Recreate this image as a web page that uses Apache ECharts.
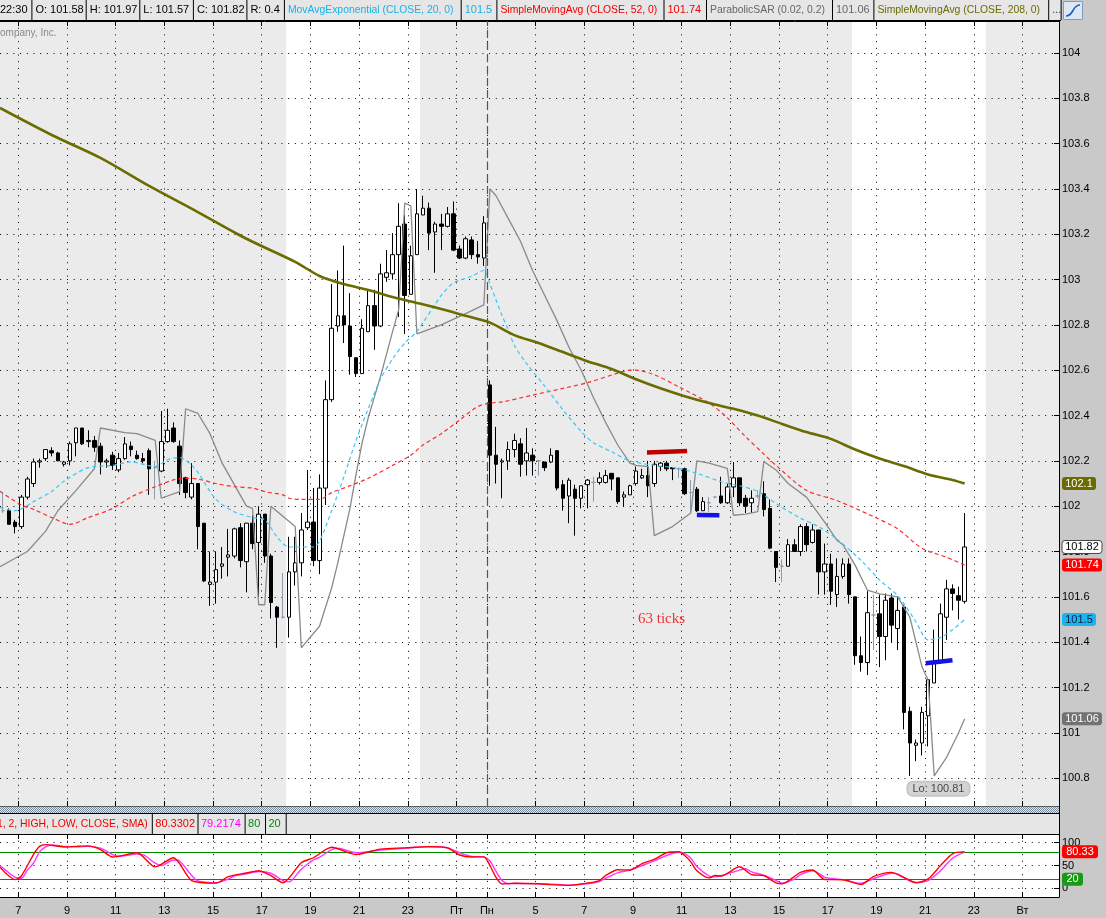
<!DOCTYPE html>
<html>
<head>
<meta charset="utf-8">
<title>Chart</title>
<script src="https://cdn.jsdelivr.net/npm/echarts@6.0.0/dist/echarts.min.js"></script>
<style>
html,body{margin:0;padding:0;background:#c9c9c9;overflow:hidden}
#chart{width:1106px;height:918px}
</style>
</head>
<body>
<div id="chart"></div>
<script>
// ---------------- DATA ----------------
const nSlots = 174; // 15-minute slots on the time axis (incl. empty future space)
const tickIndex = [3, 11, 19, 27, 35, 43, 51, 59, 67, 75, 80, 88, 96, 104, 112, 120, 128, 136, 144, 152, 160, 168];
const tickText  = ['7','9','11','13','15','17','19','21','23','Пт','Пн','5','7','9','11','13','15','17','19','21','23','Вт'];

const opens = [101.98,101.98,101.93,101.91,102.04,102.10,102.195,102.21,102.245,102.235,102.185,102.20,102.28,102.345,102.285,102.29,102.265,102.195,102.225,102.16,
102.21,102.265,102.225,102.21,102.245,102.17,102.155,102.285,102.345,102.265,102.125,102.04,102.10,101.925,101.655,101.665,101.735,101.775,101.78,101.905,
101.755,101.925,101.84,101.965,101.78,101.555,101.51,101.51,101.71,101.75,101.905,101.93,101.76,102.08,102.47,102.795,102.84,102.795,102.655,102.585,
102.77,102.885,102.795,103.01,103.025,103.11,103.245,102.935,103.11,103.285,103.315,103.21,103.245,103.235,103.29,103.135,103.095,103.175,103.11,103.095,
102.535,102.225,102.195,102.20,102.25,102.275,102.20,102.225,102.20,102.195,102.195,102.245,102.095,102.045,102.075,102.035,102.095,102.105,102.105,102.105,
102.145,102.125,102.04,102.05,102.10,102.125,102.135,102.10,102.175,102.19,102.17,102.165,102.165,102.06,102.075,101.98,102.015,102.04,102.045,102.015,
102.085,102.125,102.035,102.015,102.045,102.055,101.99,101.80,101.735,101.735,101.83,101.80,101.91,101.84,101.895,101.71,101.745,101.61,101.69,101.745,
101.60,101.34,101.31,101.52,101.525,101.425,101.595,101.46,101.555,101.095,100.945,100.955,101.075,101.22,101.31,101.51,101.635,101.605,101.58];

const highs = [102.06,101.99,101.94,102.05,102.13,102.21,102.21,102.25,102.26,102.24,102.20,102.285,102.345,102.345,102.335,102.31,102.28,102.21,102.24,102.235,
102.305,102.285,102.245,102.235,102.255,102.20,102.42,102.43,102.37,102.29,102.13,102.19,102.10,101.925,101.80,101.80,101.82,101.90,101.905,101.925,
101.925,101.96,102.0,101.965,101.79,101.56,101.705,101.865,101.865,101.97,102.16,102.08,102.14,102.555,102.98,103.04,103.15,102.94,102.655,102.825,
102.955,102.955,103.07,103.13,103.205,103.337,103.285,103.15,103.40,103.37,103.34,103.255,103.29,103.32,103.345,103.15,103.19,103.19,103.17,103.28,
102.555,102.35,102.21,102.285,102.32,102.30,102.345,102.255,102.205,102.195,102.255,102.245,102.115,102.125,102.095,102.09,102.12,102.13,102.15,102.16,
102.145,102.125,102.065,102.095,102.175,102.165,102.20,102.20,102.195,102.20,102.17,102.17,102.17,102.115,102.085,102.04,102.04,102.045,102.13,102.10,
102.195,102.125,102.05,102.07,102.07,102.11,102.03,101.80,101.765,101.855,101.855,101.92,101.925,101.92,101.895,101.835,101.79,101.77,101.77,101.77,
101.60,101.425,101.625,101.61,101.61,101.615,101.615,101.60,101.565,101.115,100.97,101.115,101.235,101.455,101.57,101.675,101.655,101.645,101.97];

const lows = [101.97,101.92,101.88,101.90,102.03,102.085,102.17,102.20,102.22,102.20,102.175,102.18,102.22,102.27,102.26,102.24,102.14,102.17,102.16,102.15,
102.205,102.22,102.205,102.19,102.05,102.03,102.15,102.28,102.28,102.05,102.035,102.03,101.81,101.665,101.56,101.57,101.68,101.69,101.77,101.73,
101.62,101.81,101.60,101.75,101.505,101.375,101.505,101.42,101.65,101.69,101.895,101.735,101.70,102.005,102.46,102.77,102.72,102.58,102.57,102.585,
102.77,102.69,102.79,102.99,103.0,102.835,102.76,102.935,103.11,103.285,103.13,103.03,103.13,103.23,103.125,103.09,103.09,103.09,103.07,103.06,
102.09,102.10,102.035,102.16,102.215,102.13,102.135,102.135,102.135,102.155,102.19,102.07,101.98,101.925,101.87,101.99,101.99,102.02,102.095,102.10,
102.07,102.01,102.0,102.05,102.09,102.12,102.04,102.085,102.155,102.155,102.115,102.125,102.05,101.975,101.975,101.98,101.975,102.035,102.01,102.01,
102.04,102.0,101.97,101.97,102.035,101.955,101.81,101.665,101.665,101.735,101.80,101.78,101.80,101.835,101.61,101.61,101.565,101.555,101.68,101.57,
101.30,101.27,101.255,101.365,101.29,101.32,101.40,101.365,101.015,100.81,100.875,100.90,100.94,101.22,101.305,101.41,101.54,101.50,101.57];

const closes = [101.98,101.92,101.91,102.04,102.12,102.195,102.20,102.25,102.235,102.20,102.195,102.275,102.345,102.275,102.29,102.26,102.195,102.20,102.18,102.21,
102.275,102.25,102.21,102.20,102.165,102.17,102.285,102.335,102.285,102.10,102.06,102.10,101.91,101.67,101.665,101.72,101.745,101.785,101.90,101.76,
101.925,101.835,101.965,101.78,101.575,101.51,101.51,101.71,101.75,101.895,101.93,101.76,102.08,102.47,102.785,102.84,102.80,102.66,102.585,102.785,
102.885,102.795,103.025,103.03,103.11,103.235,102.93,103.105,103.29,103.315,103.205,103.245,103.235,103.29,103.13,103.095,103.18,103.11,103.10,103.25,
102.225,102.185,102.20,102.25,102.29,102.185,102.235,102.20,102.20,102.17,102.225,102.08,102.035,102.115,102.035,102.09,102.115,102.105,102.125,102.135,
102.12,102.02,102.05,102.09,102.155,102.135,102.09,102.185,102.19,102.165,102.165,102.165,102.055,102.06,101.98,102.02,102.015,102.04,102.015,102.085,
102.125,102.015,102.0,102.035,102.045,101.985,101.815,101.73,101.735,101.83,101.80,101.91,101.83,101.895,101.71,101.745,101.625,101.69,101.745,101.61,
101.34,101.31,101.53,101.52,101.425,101.585,101.475,101.54,101.09,100.955,100.955,101.09,101.235,101.31,101.525,101.635,101.615,101.585,101.82];

// indicator lines: [slot index, price]  (slot -0.5 = left edge of the plot)
const sma208 = [[-0.5,103.757],[8,103.638],[16,103.537],[24,103.413],[32,103.298],[40,103.18],[48,103.078],[52,103.016],[56,102.98],[60,102.954],[64,102.923],[68,102.897],[72,102.87],[76,102.84],[80,102.81],[84,102.755],[88,102.72],[92,102.68],[96,102.64],[100,102.605],[104,102.56],[108,102.52],[112,102.485],[116,102.455],[120,102.43],[124,102.40],[128,102.363],[132,102.327],[136,102.297],[140,102.25],[144,102.21],[148,102.177],[152,102.14],[156,102.116],[158,102.10]];
const sma52 = [[-0.5,102.066],[3,102.005],[5,101.986],[8,101.95],[11,101.92],[14,101.95],[18,101.99],[21,102.04],[25,102.086],[28,102.116],[30,102.123],[32,102.12],[35,102.10],[38,102.086],[41,102.08],[43,102.064],[46,102.05],[47,102.035],[49,102.03],[52,102.03],[54,102.06],[57,102.09],[60,102.123],[64,102.18],[67,102.225],[69,102.27],[72,102.32],[75,102.38],[78,102.44],[80,102.455],[82,102.46],[87,102.49],[92,102.52],[96,102.545],[101,102.587],[103,102.6],[104,102.6],[107,102.58],[111,102.527],[116,102.455],[119,102.39],[122,102.307],[125,102.23],[127,102.18],[132,102.07],[137,102.025],[143,101.954],[147,101.90],[151,101.814],[155,101.775],[158,101.74]];
const ema20 = [[-0.5,101.995],[2,101.98],[5,102.02],[8,102.065],[10,102.11],[14,102.17],[18,102.18],[21,102.195],[25,102.175],[27,102.205],[29,102.215],[31,102.18],[32,102.15],[35,102.03],[38,101.975],[41,101.95],[43,101.94],[45,101.865],[47,101.82],[51,101.82],[52,101.845],[54,101.98],[56,102.13],[58,102.29],[60,102.43],[62,102.56],[64,102.65],[66,102.72],[68,102.77],[69,102.81],[71,102.89],[72,102.93],[74,102.985],[77,103.015],[79,103.04],[80,102.98],[81,102.91],[82,102.84],[83,102.78],[84,102.71],[86,102.63],[89,102.53],[92,102.425],[95,102.33],[97,102.28],[100,102.24],[103,102.2],[107,102.18],[111,102.167],[114,102.145],[118,102.108],[121,102.09],[124,102.066],[126,102.03],[128,101.995],[131,101.947],[134,101.91],[137,101.855],[141,101.76],[144,101.675],[147,101.605],[150,101.49],[152,101.41],[154,101.42],[156,101.455],[158,101.5]];
const psar = [[-0.5,101.733],[4,101.80],[7,101.89],[9,101.98],[12,102.07],[15,102.165],
[16,102.345],[20,102.325],[22,102.32],[25,102.29],
[26,102.035],[29,102.064],
[30,102.43],[32,102.41],[34,102.32],[36,102.19],[40,102.0],[41,101.99],
[42,101.565],[43,101.565],
[44,102.0],[48,101.91],
[49,101.375],[52,101.47],[54,101.64],[55,101.75],[56,101.87],[57,101.99],[58,102.14],[59,102.28],[60,102.39],[61,102.48],[62,102.57],[63,102.67],[64,102.77],[65,102.866],
[66,103.337],[67,103.325],
[68,102.76],[72,102.80],[76,102.85],[79,102.888],
[80,103.40],[81,103.37],[83,103.27],[85,103.17],[87,103.04],[89,102.93],[91,102.82],[93,102.70],[95,102.60],[97,102.48],[99,102.37],[101,102.27],[103,102.19],[104,102.18],[106,102.175],
[107,101.87],[110,101.91],[113,101.97],
[114,102.20],[116,102.19],[119,102.167],
[120,101.96],[122,101.965],[124,101.976],
[125,102.197],[127,102.16],[129,102.10],[132,102.04],[135,101.93],[137,101.85],[138,101.83],[140,101.74],[142,101.63],[144,101.613],[147,101.60],[149,101.51],[151,101.29],[152,101.233],
[153,100.81],[155,100.89],[157,101.0],[158,101.062]];

// drawn level segments
const redLevel   = [[105.8,102.237],[112.4,102.243]];
const blueLevel1 = [[114.0,101.961],[117.7,101.960]];
const blueLevel2 = [[151.6,101.307],[156.0,101.320]];

// sessions (slot edges) shown with white background
const whiteSessions = [[46.5,68.5],[139.5,161.5]];
const weekBreak = 79.5;

// stochastic
const stochK = [[-0.5,46],[2,19],[3,27],[5,74],[6,92],[7,95.7],[10,90.7],[12,92],[14,93],[16,85],[18,68.6],[22,78],[25,47],[28,67],[31,17],[35,11.4],[37,25.7],[40,33.6],[42,38.6],[44,28],[46,12],[49,56],[51,67],[54,90],[58,74],[62,86],[66,88.6],[70,91.4],[73,88.6],[75,73],[77,68.6],[79,69],[80,50],[81,24],[82,9.5],[84,11],[88,10],[90,8],[93,6.5],[96,11.5],[98,17],[99,27.9],[101,40.7],[103,40],[105,54.3],[107,63.6],[109,77.9],[111,80],[112,72],[113,58],[114,38.6],[116,22.9],[117,27.9],[118,27.1],[121,47.1],[123,30],[125,27.9],[127,12],[128,10],[130,25.7],[131,35],[133,40],[135,19.3],[138,18.6],[141,8.6],[143,25.7],[146,35],[148,24],[150,12.1],[152,20.7],[154,49.3],[156,75.7],[158,80.3302]];
const stochD = [[-0.5,50],[2,24],[3,22],[4,40],[5,55],[6,80],[7,91],[8,95],[10,92],[12,91],[14,92],[16,88],[18,74],[19,70],[22,75],[23,74],[25,55],[26,50],[28,62],[29,60],[31,28],[32,16],[35,12],[37,20],[38,27],[40,32],[42,37],[44,33],[46,17],[47,14],[49,42],[51,62],[52,68],[54,85],[55,88],[58,78],[62,84],[66,88],[70,91],[73,89],[75,78],[77,70],[79,69],[80,60],[81,37],[82,17],[83,10],[84,10.5],[88,10],[90,9],[93,7],[96,10],[98,15],[99,22],[101,34],[103,40],[105,50],[107,60],[109,72],[111,79],[112,76],[113,66],[114,48],[116,27],[117,25],[118,27.5],[121,40],[122,43],[123,36],[125,29],[127,17],[128,11],[130,20],[131,30],[133,38.5],[134,33],[135,24],[138,19],[141,11],[142,15],[143,21],[146,33],[147,31],[149,16],[150,13],[152,17],[154,38],[156,66],[158,79.2174]];
const stochLevels = [80, 20];

// annotations
const tickNote = {k: 108.2, p: 101.50, text: '63 ticks'};
const lowNote  = {k: 149, p: 100.81};

// ---------------- CHART ----------------
const FONT = 'Liberation Sans, Arial, sans-serif';
const C_CYAN = '#17b1ea', C_RED = '#f00000', C_OLIVE = '#6b6b00', C_SAR = '#8a8a8a';
const yMinMain = 100.677, yMaxMain = 104.141;
const yMinSto = -19.1, yMaxSto = 119.1;
const tickSet = new Set(tickIndex);
const labelMap = {};
tickIndex.forEach((i, j) => { labelMap[String(i)] = tickText[j]; });
const cats = Array.from({length: nSlots}, (_, i) => String(i));
const dotted = {color: '#000', width: 1, type: [1, 5.7]};
const last = a => a[a.length - 1][1];
const fmt = v => String(parseFloat(v.toFixed(2)));

const DOJI = '#8d9aa7';
const candleData = opens.map((o, i) => {
  const item = {value: [o, closes[i], lows[i], highs[i]]};
  if (o === closes[i]) item.itemStyle = {color: DOJI, color0: DOJI, borderColor: DOJI, borderColor0: DOJI, borderColorDoji: DOJI};
  return item;
});

function catAxis(grid, pos, labels, split) {
  return {
    type: 'category', gridIndex: grid, data: cats, position: pos, boundaryGap: true, z: 2,
    axisLine: {show: true, onZero: false, lineStyle: {color: '#000', width: 1}},
    axisTick: {show: true, inside: true, length: 5, interval: (i) => tickSet.has(i), lineStyle: {color: '#000'}},
    axisLabel: labels ? {
      show: true, interval: (i) => tickSet.has(i), margin: 8,
      formatter: (v) => '{t|' + (labelMap[v] || '') + '}',
      rich: {t: {padding: [0, 6, 0, 0], fontSize: 11, fontFamily: FONT, color: '#000'}}
    } : {show: false},
    splitLine: split ? {show: true, interval: (i) => tickSet.has(i), lineStyle: dotted} : {show: false}
  };
}
function valAxisX(grid) {
  return {type: 'value', gridIndex: grid, min: -0.5, max: nSlots - 0.5, show: false,
    axisLine: {onZero: false}, splitLine: {show: false}};
}

const chart = echarts.init(document.getElementById('chart'), null, {width: 1106, height: 918});

const lineBase = (name, data, color, width, type, smooth, xi, yi, z) => ({
  name, type: 'line', data, xAxisIndex: xi, yAxisIndex: yi, symbol: 'none', showSymbol: false,
  smooth: smooth, z: z || 4, silent: true, animation: false,
  lineStyle: {color, width, type: type || 'solid'}
});

const option = {
  animation: false,
  backgroundColor: '#c9c9c9',
  grid: [
    {left: 0, right: 47, top: 21, height: 785, outerBoundsMode: 'none', containLabel: false},
    {left: 0, right: 47, top: 834, height: 63, outerBoundsMode: 'none', containLabel: false}
  ],
  xAxis: [
    catAxis(0, 'bottom', false, true),
    catAxis(0, 'top', false, false),
    valAxisX(0),
    catAxis(1, 'bottom', true, true),
    catAxis(1, 'top', false, false),
    valAxisX(1)
  ],
  yAxis: [
    {type: 'value', gridIndex: 0, position: 'right', min: yMinMain, max: yMaxMain, scale: true,
     splitNumber: 17, minInterval: 0.2, maxInterval: 0.2, z: 2,
     axisLine: {show: true, onZero: false, lineStyle: {color: '#000'}},
     axisTick: {show: true, inside: true, length: 5, lineStyle: {color: '#000'}},
     axisLabel: {show: true, margin: 3, color: '#000', fontSize: 11, fontFamily: FONT, showMinLabel: false, showMaxLabel: false,
       formatter: (v) => Math.abs(v * 5 - Math.round(v * 5)) < 1e-6 ? String(parseFloat(v.toFixed(1))) : ''},
     splitLine: {show: true, lineStyle: dotted}},
    {type: 'value', gridIndex: 1, position: 'right', min: yMinSto, max: yMaxSto, scale: true,
     splitNumber: 3, minInterval: 50, maxInterval: 50, z: 2,
     axisLine: {show: true, onZero: false, lineStyle: {color: '#000'}},
     axisTick: {show: true, inside: true, length: 5, lineStyle: {color: '#000'}},
     axisLabel: {show: true, margin: 3, color: '#000', fontSize: 11, fontFamily: FONT, showMinLabel: false, showMaxLabel: false,
       formatter: (v) => Math.abs(v / 50 - Math.round(v / 50)) < 1e-6 ? String(Math.round(v)) : ''},
     splitLine: {show: true, lineStyle: dotted}}
  ],
  series: [
    // session backgrounds
    {type: 'line', xAxisIndex: 2, yAxisIndex: 0, data: [[0, 102]], symbol: 'none', lineStyle: {opacity: 0}, silent: true, z: 0,
     markArea: {silent: true, z: 1, data: [[{xAxis: -0.5, itemStyle: {color: '#ebebeb'}}, {xAxis: nSlots - 0.5}]].concat(
       whiteSessions.map(s => [{xAxis: s[0], itemStyle: {color: '#ffffff'}}, {xAxis: s[1]}]))}},
    {type: 'line', xAxisIndex: 5, yAxisIndex: 1, data: [[0, 50]], symbol: 'none', lineStyle: {opacity: 0}, silent: true, z: 0,
     markArea: {silent: true, z: 1, data: [[{xAxis: -0.5, itemStyle: {color: '#ffffff'}}, {xAxis: nSlots - 0.5}]]}},
    // candles
    {type: 'candlestick', xAxisIndex: 0, yAxisIndex: 0, data: candleData, barWidth: 4, z: 3, silent: true,
     itemStyle: {color: '#ffffff', color0: '#000000', borderColor: '#000000', borderColor0: '#000000', borderColorDoji: '#000000', borderWidth: 1}},
    // overlays
    lineBase('SAR', psar, C_SAR, 1.3, 'solid', false, 2, 0, 4),
    lineBase('SMA52', sma52, '#ff2a2a', 1.2, [4, 3], 0.3, 2, 0, 5),
    Object.assign(lineBase('EMA20', ema20, '#38c8f4', 1.2, [4, 3], 0.3, 2, 0, 5), {
      markLine: {silent: true, symbol: ['none', 'none'], label: {show: false}, z: 6,
        lineStyle: {color: '#555', type: [8, 4], width: 1.2}, data: [{xAxis: weekBreak}]}
    }),
    lineBase('SMA208', sma208, C_OLIVE, 2.6, 'solid', 0.3, 2, 0, 6),
    lineBase('res', redLevel, '#c00000', 4.5, 'solid', false, 2, 0, 7),
    lineBase('sup1', blueLevel1, '#1414e6', 4.5, 'solid', false, 2, 0, 7),
    lineBase('sup2', blueLevel2, '#1414e6', 4.5, 'solid', false, 2, 0, 7),
    {type: 'scatter', xAxisIndex: 2, yAxisIndex: 0, symbolSize: 0, silent: true, z: 8,
     data: [[tickNote.k, tickNote.p]],
     label: {show: true, position: 'inside', formatter: tickNote.text, color: C_RED, fontSize: 15, fontFamily: 'Liberation Serif, DejaVu Serif, serif'}},
    {type: 'scatter', xAxisIndex: 2, yAxisIndex: 0, symbolSize: 0, silent: true, z: 8,
     data: [[lowNote.k, lowNote.p]],
     label: {show: true, position: 'inside', offset: [28.6, 13], formatter: 'Lo: ' + lowNote.p.toFixed(2),
       color: '#222', fontSize: 11, fontFamily: FONT, backgroundColor: '#c9c9c9', borderColor: '#b4b4b4', borderWidth: 1,
       borderRadius: 5, padding: [2, 5, 1, 5]}},
    // stochastic
    lineBase('D', stochD, '#ff33ff', 1.4, 'solid', 0.25, 5, 1, 4),
    Object.assign(lineBase('K', stochK, '#ff0000', 1.4, 'solid', 0.25, 5, 1, 5), {
      markLine: {silent: true, symbol: ['none', 'none'], label: {show: false}, z: 3,
        lineStyle: {color: '#008a00', type: 'solid', width: 1}, data: stochLevels.map(v => ({yAxis: v}))}
    })
  ]
};
chart.setOption(option);

// ---------------- FRAME / HEADERS ----------------
const G = [];
const Z = 100;
function rect(x, y, w, h, fill, extra) { G.push(Object.assign({type: 'rect', shape: {x, y, width: w, height: h}, style: {fill}, z: Z, silent: true}, extra || {})); }
function hline(x1, y1, x2, y2, stroke, w) { G.push({type: 'line', shape: {x1, y1, x2, y2}, style: {stroke, lineWidth: w || 1}, z: Z + 1, silent: true}); }
function txt(x, y, t, fill, size, align, font) {
  G.push({type: 'text', x, y, z: Z + 2, silent: true,
    style: {text: t, fill, fontSize: size || 11, fontFamily: font || FONT, align: align || 'left', verticalAlign: 'middle'}});
}

// top header row
rect(0, 0, 1061, 20, '#e6e6e6');
const hdr = [
  [-1, 31.4, '22:30', '#000', 11],
  [31.4, 85.7, 'O: ' + opens[opens.length - 1].toFixed(2), '#000', 11],
  [85.7, 139.3, 'H: ' + highs[highs.length - 1].toFixed(2), '#000', 11],
  [139.3, 192.9, 'L: ' + lows[lows.length - 1].toFixed(2), '#000', 11],
  [192.9, 246.4, 'C: ' + closes[closes.length - 1].toFixed(2), '#000', 11],
  [246.4, 283.9, 'R: ' + fmt(highs[highs.length - 1] - lows[lows.length - 1]), '#000', 11],
  [283.9, 460.7, 'MovAvgExponential (CLOSE, 20, 0)', C_CYAN, 10.4],
  [460.7, 496.4, fmt(last(ema20)), C_CYAN, 11],
  [496.4, 663.5, 'SimpleMovingAvg (CLOSE, 52, 0)', C_RED, 10.4],
  [663.5, 706, fmt(last(sma52)), C_RED, 11],
  [706, 832, 'ParabolicSAR (0.02, 0.2)', '#666666', 10.4],
  [832, 873.4, fmt(last(psar)), '#666666', 11],
  [873.4, 1048.2, 'SimpleMovingAvg (CLOSE, 208, 0)', C_OLIVE, 10.4],
  [1048.2, 1060.6, '...', '#333', 11]
];
hdr.forEach(([x0, x1, t, c, fs], i) => {
  txt(i === 0 ? 0 : x0 + 4, 10, t, c, fs);
  hline(x1 + 0.5, 0, x1 + 0.5, 20, '#000', 1);
});
hline(0, 20.5, 1061, 20.5, '#000', 1);
// icon
rect(1063.5, 1.5, 19, 18, '#dde8f4', {style: {fill: '#dde8f4', stroke: '#7d9cc0', lineWidth: 1}});
G.push({type: 'bezierCurve', shape: {x1: 1066, y1: 16, x2: 1080, y2: 5, cpx1: 1074, cpy1: 16, cpx2: 1072, cpy2: 5},
  style: {stroke: '#1f60c4', lineWidth: 1.6, fill: null}, z: Z + 3, silent: true});
// watermark
txt(0, 33, 'ompany, Inc.', '#8a8a8a', 10);

// separator between panes
const pc = document.createElement('canvas'); pc.width = 2; pc.height = 2;
const pctx = pc.getContext('2d');
pctx.fillStyle = '#e3e7eb'; pctx.fillRect(0, 0, 2, 2);
pctx.fillStyle = '#7b8b9b'; pctx.fillRect(0, 0, 1, 1); pctx.fillRect(1, 1, 1, 1);
rect(0, 806.5, 1059, 7, {image: pc, repeat: 'repeat'});
hline(0, 813.5, 1059, 813.5, '#000', 1);
rect(0, 814, 1059, 20, '#e6e6e6');
hline(1059.5, 806, 1059.5, 834, '#000', 1);
const sto = [
  [-1, 151.8, '1, 2, HIGH, LOW, CLOSE, SMA)', C_RED, 10.4],
  [151.8, 197.5, last(stochK).toFixed(4), C_RED, 11],
  [197.5, 244.6, last(stochD).toFixed(4), '#ff00ff', 11],
  [244.6, 265, String(stochLevels[0]), '#008a00', 11],
  [265, 285.7, String(stochLevels[1]), '#008a00', 11]
];
sto.forEach(([x0, x1, t, c, fs], i) => {
  txt(i === 0 ? -3 : x0 + 3.5, 824, t, c, fs);
  hline(x1 + 0.5, 814, x1 + 0.5, 834, '#000', 1);
});

// price badges on the right axes
function badge(py, t, bg, fg, w, stroke) {
  G.push({type: 'rect', shape: {x: 1062, y: py - 6.5, width: w, height: 13, r: 3},
    style: {fill: bg, stroke: stroke || null, lineWidth: stroke ? 1 : 0}, z: Z + 4, silent: true});
  G.push({type: 'text', x: 1062 + w / 2, y: py, z: Z + 5, silent: true,
    style: {text: t, fill: fg, fontSize: 11, fontFamily: FONT, align: 'center', verticalAlign: 'middle'}});
}
const yP = (v) => chart.convertToPixel({yAxisIndex: 0}, v);
const yS = (v) => chart.convertToPixel({yAxisIndex: 1}, v);
badge(yP(last(sma208)), fmt(last(sma208)), C_OLIVE, '#ffffff', 34);
badge(yP(closes[closes.length - 1]), closes[closes.length - 1].toFixed(2), '#ffffff', '#000000', 40, '#444');
badge(yP(last(sma52)), fmt(last(sma52)), '#ff0000', '#ffffff', 40);
badge(yP(last(ema20)), fmt(last(ema20)), '#1cb4ee', '#0a1e3c', 34);
badge(yP(last(psar)), fmt(last(psar)), '#727272', '#ffffff', 40);
badge(yS(last(stochK)), last(stochK).toFixed(2), '#ff0000', '#ffffff', 36);
badge(yS(stochLevels[1]), String(stochLevels[1]), '#189a18', '#ffffff', 21);

chart.setOption({graphic: {elements: G}});
</script>
</body>
</html>
